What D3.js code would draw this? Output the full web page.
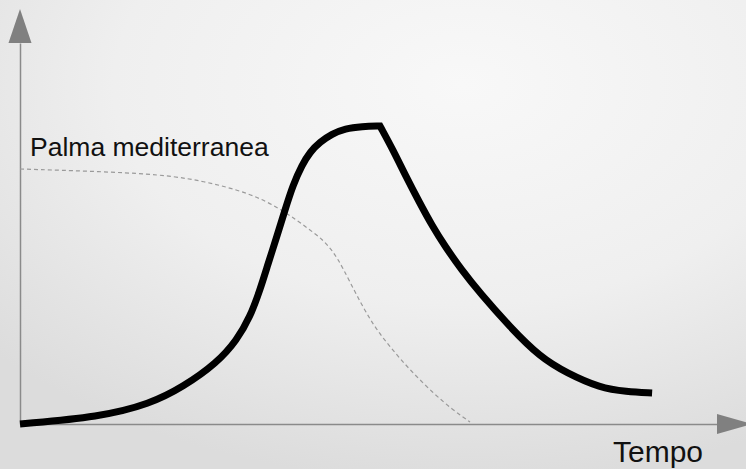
<!DOCTYPE html>
<html lang="en">
<head>
    <meta charset="UTF-8">
    <title>Palma mediterranea</title>
    <script src="https://cdn.jsdelivr.net/npm/d3@7"></script>
    <style>
        body {
            margin: 0;
            padding: 0;
            font-family: "Liberation Sans", Arial, sans-serif;
        }
        svg { display: block; }
    </style>
</head>
<body>
    <div id="chart"></div>

    <script>
        // time on x (0-100), level on y (0-100)
        const riseX = [0, 11.43, 18.57, 23.29, 28.14, 31, 32.86, 34.29, 35.43, 36.71, 37.86, 39, 40.29, 41.43, 42.86, 44.57, 46.43, 48.86, 51.43];
        const riseY = [0, 2.33, 6.67, 12.33, 20.33, 28, 35.67, 44.67, 53.33, 62.67, 71.33, 79.67, 86.33, 90.67, 94, 96.67, 98.5, 99.17, 99.33];
        const fallX = [51.43, 53.3, 55.1, 57.1, 58.9, 60.7, 63.1, 65.7, 70, 74.3, 78.1, 82.9, 86.6, 90.3];
        const fallY = [99.33, 91.3, 82.7, 73.7, 66, 59.3, 51.3, 43.7, 32.3, 22.3, 17, 12, 10.8, 10.3];
        const palmaX = [0, 18.57, 25.71, 32.86, 37.57, 41.43, 43.14, 44.71, 46.14, 48.14, 50.43, 52.86, 55.71, 59, 61.86, 64.29];
        const palmaY = [85, 83.67, 81.33, 77, 71.33, 64.67, 61.67, 57.67, 52, 42.67, 33, 25.67, 18, 10.33, 4.67, 0.67];
        const seriesLabel = "Palma mediterranea";
        const xLabel = "Tempo";

        const width = 746;
        const height = 469;

        const svg = d3.select("#chart")
            .append("svg")
            .attr("width", width)
            .attr("height", height);

        const defs = svg.append("defs");
        const grad = defs.append("radialGradient")
            .attr("id", "bg")
            .attr("cx", "62%").attr("cy", "18%").attr("r", "85%");
        grad.append("stop").attr("offset", "0%").attr("stop-color", "#f8f8f8");
        grad.append("stop").attr("offset", "55%").attr("stop-color", "#efefef");
        grad.append("stop").attr("offset", "100%").attr("stop-color", "#dcdcdc");

        svg.append("rect")
            .attr("width", width)
            .attr("height", height)
            .attr("fill", "url(#bg)");

        const x = d3.scaleLinear().domain([0, 100]).range([20, 720]);
        const y = d3.scaleLinear().domain([0, 100]).range([424, 124]);

        // axes (no ticks, just the lines + arrows)
        const axisColor = "#8a8a8a";
        svg.append("g")
            .attr("transform", `translate(0,${y(0)})`)
            .call(d3.axisBottom(d3.scaleLinear().range([x(0), 717])).ticks(0).tickSizeOuter(0));
        svg.append("g")
            .attr("transform", `translate(${x(0)},0)`)
            .call(d3.axisLeft(d3.scaleLinear().range([y(0), 43])).ticks(0).tickSizeOuter(0));
        svg.selectAll(".domain")
            .attr("stroke", axisColor)
            .attr("stroke-width", 1.5);

        svg.append("path")
            .attr("d", `M${x(0) - 11.5},43 L${x(0) + 11.5},43 L${x(0)},9 Z`)
            .attr("fill", "#808080");
        svg.append("path")
            .attr("d", `M717,${y(0) - 10} L717,${y(0) + 10} L752,${y(0)} Z`)
            .attr("fill", "#808080");

        const line = d3.line()
            .x(d => x(d[0]))
            .y(d => y(d[1]))
            .curve(d3.curveBasis);

        const palma = palmaX.map((v, i) => [v, palmaY[i]]);
        svg.append("path")
            .attr("d", line(palma))
            .attr("fill", "none")
            .attr("stroke", "#9a9a9a")
            .attr("stroke-width", 1.2)
            .attr("stroke-dasharray", "4,3");

        // rise and fall joined with a sharp corner at the peak
        const rise = riseX.map((v, i) => [v, riseY[i]]);
        const fall = fallX.map((v, i) => [v, fallY[i]]);
        svg.append("path")
            .attr("d", line(rise) + line(fall).replace(/^M/, "L"))
            .attr("fill", "none")
            .attr("stroke", "#000")
            .attr("stroke-width", 7)
            .attr("stroke-linejoin", "miter")
            .attr("stroke-linecap", "butt");

        svg.append("text")
            .attr("x", 30)
            .attr("y", 156)
            .attr("font-size", 26.5)
            .attr("fill", "#111")
            .text(seriesLabel);

        svg.append("text")
            .attr("x", 613)
            .attr("y", 462)
            .attr("font-size", 30)
            .attr("fill", "#111")
            .text(xLabel);
    </script>
</body>
</html>
